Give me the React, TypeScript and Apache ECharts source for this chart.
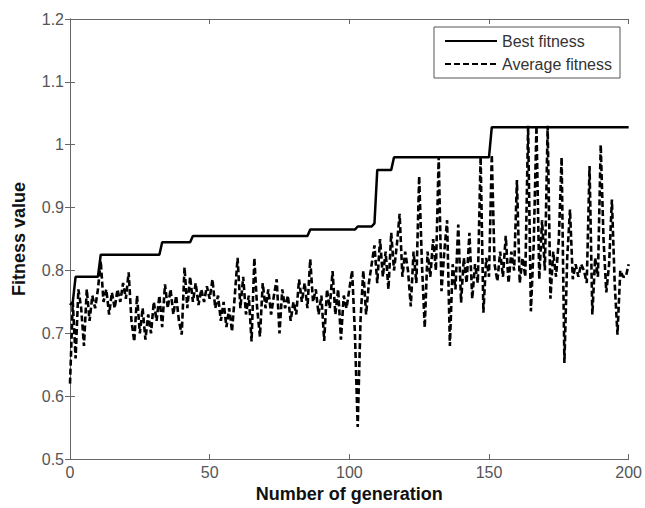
import React, { useEffect, useRef } from "react";
import * as echarts from "echarts";

const xTicks = [0, 50, 100, 150, 200];
const yTicks = [0.5, 0.6, 0.7, 0.8, 0.9, 1.0, 1.1, 1.2];

const bestFitness: [number, number][] = [
  [0, 0.745], [1, 0.75], [2, 0.79], [10, 0.79], [11, 0.825], [32, 0.825],
  [33, 0.845], [43, 0.845], [44, 0.855], [85, 0.855], [86, 0.865], [102, 0.865],
  [103, 0.87], [108, 0.87], [109, 0.875], [110, 0.96], [115, 0.96], [116, 0.98],
  [150, 0.98], [151, 1.028], [200, 1.028],
];

const averageFitness: number[] = [
  // 0-10
  0.62, 0.75, 0.66, 0.77, 0.74, 0.68, 0.77, 0.72, 0.76, 0.74, 0.77,
  // 11-20
  0.815, 0.75, 0.77, 0.73, 0.765, 0.74, 0.77, 0.75, 0.78, 0.755,
  // 21-30
  0.797, 0.72, 0.687, 0.76, 0.70, 0.74, 0.69, 0.73, 0.70, 0.75,
  // 31-40
  0.72, 0.76, 0.71, 0.778, 0.74, 0.77, 0.73, 0.76, 0.72, 0.698,
  // 41-50
  0.805, 0.74, 0.79, 0.75, 0.78, 0.745, 0.77, 0.75, 0.775, 0.755,
  // 51-60
  0.786, 0.74, 0.76, 0.72, 0.75, 0.71, 0.74, 0.703, 0.76, 0.82,
  // 61-70
  0.74, 0.79, 0.73, 0.76, 0.687, 0.82, 0.74, 0.695, 0.78, 0.74,
  // 71-80
  0.77, 0.73, 0.76, 0.786, 0.70, 0.77, 0.74, 0.76, 0.72, 0.75,
  // 81-90
  0.73, 0.786, 0.75, 0.78, 0.74, 0.818, 0.75, 0.77, 0.73, 0.76,
  // 91-100
  0.688, 0.77, 0.74, 0.799, 0.73, 0.77, 0.69, 0.76, 0.74, 0.77,
  // 101-110
  0.80, 0.70, 0.551, 0.72, 0.80, 0.73, 0.78, 0.81, 0.84, 0.78,
  // 111-120
  0.85, 0.79, 0.83, 0.77, 0.86, 0.80, 0.84, 0.89, 0.79, 0.83,
  // 121-130
  0.80, 0.743, 0.83, 0.78, 0.95, 0.81, 0.709, 0.83, 0.79, 0.85,
  // 131-140
  0.80, 0.981, 0.767, 0.83, 0.88, 0.68, 0.81, 0.77, 0.873, 0.749,
  // 141-150
  0.82, 0.78, 0.86, 0.755, 0.81, 0.78, 0.981, 0.733, 0.82, 0.79,
  // 151-160
  0.984, 0.81, 0.783, 0.83, 0.79, 0.855, 0.78, 0.83, 0.80, 0.944,
  // 161-170
  0.78, 0.82, 0.79, 1.03, 0.735, 0.84, 1.03, 0.786, 0.88, 0.80,
  // 171-180
  1.03, 0.755, 0.83, 0.79, 0.85, 0.98, 0.653, 0.82, 0.897, 0.786,
  // 181-190
  0.81, 0.79, 0.81, 0.80, 0.78, 0.966, 0.73, 0.82, 0.79, 1.0,
  // 191-200
  0.85, 0.765, 0.81, 0.913, 0.78, 0.698, 0.80, 0.79, 0.79, 0.81,
];

const FONT = "'Liberation Sans', Arial, sans-serif";
const AXIS_COLOR = "#666";

export default function App() {
  const ref = useRef<HTMLDivElement>(null);

  useEffect(() => {
    if (!ref.current) return;
    const chart = echarts.init(ref.current, undefined, { renderer: "svg" });
    const fmt = (v: number) => String(Math.round(v * 10) / 10);
    const common = {
      axisLine: { show: true, lineStyle: { color: AXIS_COLOR, width: 1 } },
      axisTick: { show: true, inside: true, length: 5, lineStyle: { color: AXIS_COLOR } },
      splitLine: { show: false },
    };
    chart.setOption({
      animation: false,
      backgroundColor: "#fff",
      grid: { left: 70, right: 13, top: 19, bottom: 48, containLabel: false },
      legend: {
        orient: "vertical",
        right: 25,
        top: 27,
        backgroundColor: "#fff",
        borderColor: "#555",
        borderWidth: 1,
        padding: [6, 8, 6, 10],
        itemWidth: 52,
        itemHeight: 12,
        itemGap: 7,
        itemStyle: { opacity: 0 },
        textStyle: { fontFamily: FONT, fontSize: 16, color: "#333" },
        data: ["Best fitness", "Average fitness"],
      },
      xAxis: [
        {
          type: "value",
          min: xTicks[0],
          max: xTicks[xTicks.length - 1],
          interval: 50,
          name: "Number of generation",
          nameLocation: "middle",
          nameGap: 24,
          nameTextStyle: { fontFamily: FONT, fontSize: 18, fontWeight: "bold", color: "#111" },
          axisLabel: { fontFamily: FONT, fontSize: 16, color: "#555", margin: 5 },
          ...common,
        },
        {
          type: "value",
          position: "top",
          min: xTicks[0],
          max: xTicks[xTicks.length - 1],
          interval: 50,
          axisLabel: { show: false },
          ...common,
        },
      ],
      yAxis: [
        {
          type: "value",
          min: yTicks[0],
          max: yTicks[yTicks.length - 1],
          interval: 0.1,
          name: "Fitness value",
          nameLocation: "middle",
          nameGap: 42,
          nameTextStyle: { fontFamily: FONT, fontSize: 18, fontWeight: "bold", color: "#111" },
          axisLabel: { fontFamily: FONT, fontSize: 16, color: "#555", margin: 6, formatter: fmt },
          ...common,
        },
        {
          type: "value",
          position: "right",
          min: yTicks[0],
          max: yTicks[yTicks.length - 1],
          interval: 0.1,
          axisLabel: { show: false },
          ...common,
        },
      ],
      series: [
        {
          name: "Best fitness",
          type: "line",
          xAxisIndex: 0,
          yAxisIndex: 0,
          data: bestFitness,
          showSymbol: false,
          symbol: "none",
          lineStyle: { color: "#000", width: 2.5, type: "solid" },
          itemStyle: { color: "#000" },
          z: 3,
        },
        {
          name: "Average fitness",
          type: "line",
          xAxisIndex: 0,
          yAxisIndex: 0,
          data: averageFitness.map((v, i) => [i, v]),
          showSymbol: false,
          symbol: "none",
          lineStyle: { color: "#000", width: 2.6, type: [6, 3] },
          itemStyle: { color: "#000" },
          z: 2,
        },
      ],
    });
    return () => chart.dispose();
  }, []);

  return <div ref={ref} style={{ width: 645, height: 508, position: "absolute", left: 0, top: 0 }} />;
}
